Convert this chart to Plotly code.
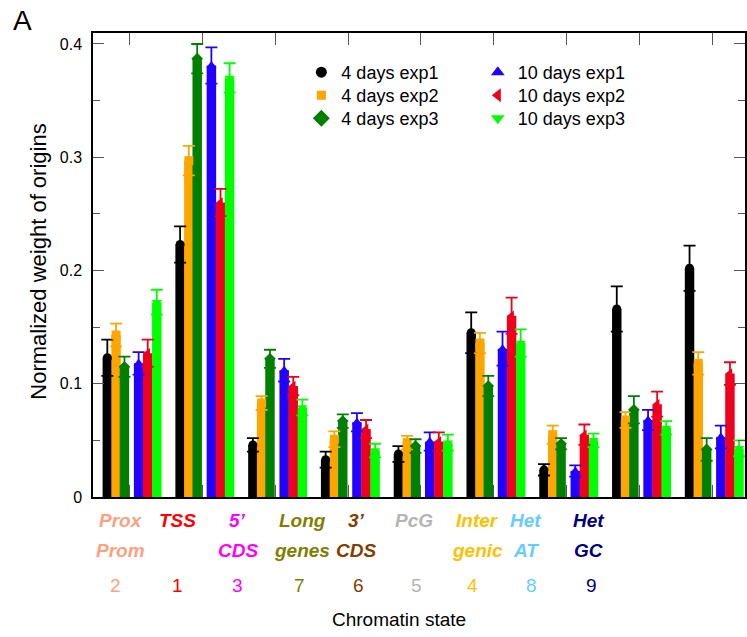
import plotly.graph_objects as go

# ---------------- data ----------------
states_line1 = ["Prox", "TSS", "5’", "Long", "3’", "PcG", "Inter", "Het", "Het"]
states_line2 = ["Prom", "", "CDS", "genes", "CDS", "", "genic", "AT", "GC"]
state_numbers = ["2", "1", "3", "7", "6", "5", "4", "8", "9"]
state_colors = ["#FF9F80", "#FF0000", "#FF00FF", "#808000", "#804000",
                "#B4B4B4", "#FFC000", "#66CCFF", "#000080"]

series_names = ["4 days exp1", "4 days exp2", "4 days exp3",
                "10 days exp1", "10 days exp2", "10 days exp3"]

d4_exp1 = [0.123, 0.223, 0.046, 0.033, 0.038, 0.145, 0.024, 0.166, 0.202]
d4_exp2 = [0.143, 0.297, 0.083, 0.051, 0.048, 0.136, 0.055, 0.068, 0.118]
d4_exp3 = [0.115, 0.387, 0.122, 0.067, 0.045, 0.098, 0.047, 0.077, 0.042]
d10_exp1 = [0.118, 0.381, 0.112, 0.066, 0.049, 0.131, 0.023, 0.068, 0.053]
d10_exp2 = [0.127, 0.260, 0.098, 0.060, 0.049, 0.160, 0.055, 0.082, 0.109]
d10_exp3 = [0.172, 0.370, 0.079, 0.041, 0.048, 0.136, 0.050, 0.061, 0.043]

d4_exp1_err = [0.016, 0.016, 0.006, 0.007, 0.007, 0.018, 0.005, 0.020, 0.020]
d4_exp2_err = [0.010, 0.013, 0.006, 0.007, 0.006, 0.009, 0.008, 0.007, 0.010]
d4_exp3_err = [0.009, 0.013, 0.008, 0.006, 0.006, 0.009, 0.005, 0.012, 0.010]
d10_exp1_err = [0.010, 0.016, 0.010, 0.008, 0.008, 0.015, 0.005, 0.009, 0.010]
d10_exp2_err = [0.012, 0.012, 0.008, 0.008, 0.008, 0.016, 0.009, 0.011, 0.010]
d10_exp3_err = [0.011, 0.013, 0.007, 0.006, 0.007, 0.012, 0.006, 0.006, 0.007]

y_ticks = [0, 0.1, 0.2, 0.3, 0.4]

# ---------------- style ----------------
values = [d4_exp1, d4_exp2, d4_exp3, d10_exp1, d10_exp2, d10_exp3]
errors = [d4_exp1_err, d4_exp2_err, d4_exp3_err, d10_exp1_err, d10_exp2_err, d10_exp3_err]
colors = ["#000000", "#FFA500", "#008000", "#2200FF", "#F0001C", "#00FF00"]
symbols = ["circle", "square", "diamond", "triangle-up", "triangle-left", "triangle-down"]
legend_sizes = [11, 9, 13, 12, 12, 12]
offsets = [-0.31, -0.19, -0.075, 0.12, 0.245, 0.37]
bar_w = 0.13
FONT = "Arial, Liberation Sans, sans-serif"

W, H = 747, 637
ML, MT, MR, MB = 93, 33, 0, 140
PW, PH = W - ML - MR, H - MT - MB


def px_x(px):
    return (px - ML) / PW


def px_y(py):
    return (MT + PH - py) / PH


groups = list(range(1, len(state_numbers) + 1))
fig = go.Figure()

for vals, col, off in zip(values, colors, offsets):
    fig.add_trace(go.Bar(
        x=[g + off for g in groups], y=vals, width=bar_w,
        marker=dict(color=col, line=dict(width=0)),
        showlegend=False, hoverinfo="skip"))

for vals, errs, col, sym, off in zip(values, errors, colors, symbols, offsets):
    fig.add_trace(go.Scatter(
        x=[g + off for g in groups], y=vals, mode="markers",
        marker=dict(color=col, symbol=sym, size=9, line=dict(width=0)),
        error_y=dict(type="data", array=errs, visible=True, color=col,
                     thickness=1.8, width=6),
        showlegend=False, hoverinfo="skip"))

legend_ids = ["legend", "legend2", "legend3", "legend4", "legend5", "legend6"]
for name, col, sym, sz, lid in zip(series_names, colors, symbols, legend_sizes, legend_ids):
    fig.add_trace(go.Scatter(
        x=[None], y=[None], mode="markers", name=name,
        marker=dict(color=col, symbol=sym, size=sz, line=dict(width=0)),
        legend=lid))

annotations = []
x1 = [121, 178, 238, 303, 357, 415, 479, 527, 590]
xn = [116, 178, 238, 300, 359, 417, 474, 533, 593]
for t1, t2, num, col, a, b in zip(states_line1, states_line2, state_numbers,
                                  state_colors, x1, xn):
    annotations.append(dict(x=px_x(a), y=px_y(520), xref="paper", yref="paper",
                            xanchor="center", yanchor="middle",
                            text=f"<b><i>{t1}</i></b>", showarrow=False,
                            font=dict(size=19, color=col, family=FONT)))
    if t2:
        annotations.append(dict(x=px_x(a), y=px_y(550), xref="paper", yref="paper",
                                xanchor="center", yanchor="middle",
                                text=f"<b><i>{t2}</i></b>", showarrow=False,
                                font=dict(size=19, color=col, family=FONT)))
    annotations.append(dict(x=px_x(b), y=px_y(585), xref="paper", yref="paper",
                            xanchor="center", yanchor="middle",
                            text=num, showarrow=False,
                            font=dict(size=19, color=col, family=FONT)))

annotations.append(dict(x=px_x(400), y=px_y(619), xref="paper", yref="paper",
                        xanchor="center", yanchor="middle",
                        text="Chromatin state", showarrow=False,
                        font=dict(size=19, color="#000", family=FONT)))
annotations.append(dict(x=px_x(37.5), y=px_y(262), xref="paper", yref="paper",
                        xanchor="center", yanchor="middle",
                        text="Normalized weight of origins", showarrow=False,
                        textangle=-90,
                        font=dict(size=22, color="#000", family=FONT)))
annotations.append(dict(x=px_x(22), y=px_y(20), xref="paper", yref="paper",
                        xanchor="center", yanchor="middle",
                        text="A", showarrow=False,
                        font=dict(size=28, color="#000", family=FONT)))

legend_style = dict(font=dict(size=18, family=FONT, color="#000"),
                    bgcolor="rgba(0,0,0,0)", borderwidth=0,
                    xanchor="left", yanchor="top", itemwidth=30)
leg_x = [302, 302, 302, 479, 479, 479]
leg_y = [54, 77, 100, 54, 77, 100]
legend_layout = {lid: dict(x=px_x(lx), y=px_y(ly), **legend_style)
                 for lid, lx, ly in zip(legend_ids, leg_x, leg_y)}

fig.update_layout(
    width=W, height=H,
    margin=dict(l=ML, r=MR, t=MT, b=MB, pad=0),
    paper_bgcolor="white", plot_bgcolor="white",
    barmode="overlay",
    showlegend=True,
    xaxis=dict(range=[0.4932, 9.452], tickvals=groups, showticklabels=False,
               ticks="inside", ticklen=12, tickcolor="#555", tickwidth=1.2,
               showline=True, linecolor="#000", linewidth=1.5, mirror="ticks",
               showgrid=False, zeroline=False, fixedrange=True),
    yaxis=dict(range=[0, 0.4097], tickvals=y_ticks,
               ticktext=[("0" if v == 0 else f"{v:.1f}") for v in y_ticks],
               ticks="inside", ticklen=11, tickcolor="#555", tickwidth=1.2,
               tickfont=dict(size=16, family=FONT, color="#000"),
               ticklabelstandoff=6,
               minor=dict(dtick=0.05, ticks="inside", ticklen=7,
                          tickcolor="#555", tickwidth=1.2),
               showline=True, linecolor="#000", linewidth=1.5, mirror="ticks",
               showgrid=False, zeroline=False, fixedrange=True),
    annotations=annotations,
    **legend_layout,
)

fig.write_html("out.html")
